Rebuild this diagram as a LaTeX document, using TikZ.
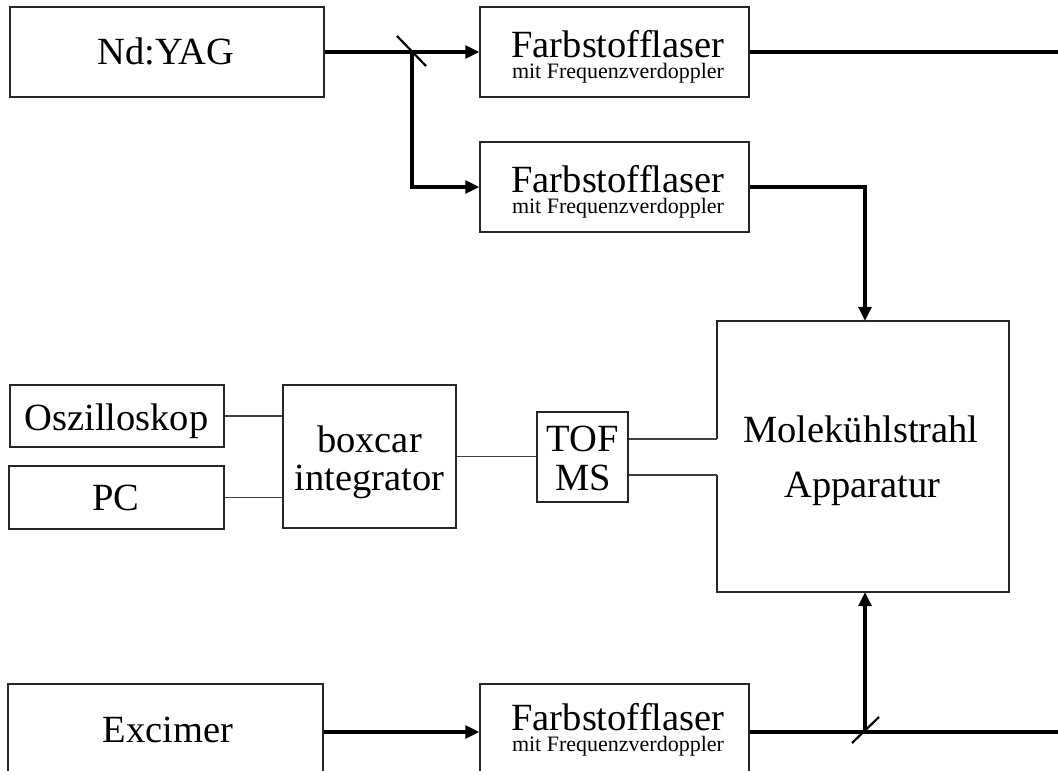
\documentclass[tikz,border=0pt]{standalone}
\usepackage{fontspec}
\setmainfont{Liberation Serif}
\usetikzlibrary{arrows.meta,calc}
\begin{document}
\begin{tikzpicture}[x=1pt,y=-1pt,
  box/.style={draw=black!85, line width=1.5pt, rectangle, inner sep=0pt},
  plainbox/.style={rectangle, inner sep=0pt},
  boxline/.style={draw=black!85, line width=1.5pt},
  beam/.style={line width=3.2pt, black},
  beamarrow/.style={beam, -{Triangle[length=14pt,width=13pt]}},
  wire/.style={line width=1.2pt, black!75},
  mirror/.style={line width=2.2pt, black},
  big/.style={font=\fontsize{38.5}{39}\selectfont, anchor=base, inner sep=0pt, text depth=0pt},
  small/.style={font=\fontsize{22}{24}\selectfont, anchor=base, inner sep=0pt, text height=14pt}]
\clip (0,0) rectangle (1058,771);
\fill[white] (0,0) rectangle (1058,771);

% boxes
\node[box, minimum width=314pt, minimum height=90pt] (yag) at (167,52) {};
\node[box, minimum width=269pt, minimum height=90pt] (f1) at (614.5,52) {};
\node[box, minimum width=269pt, minimum height=90pt] (f2) at (614.5,187) {};
\node[box, minimum width=214pt, minimum height=62pt] (osz) at (117,416) {};
\node[box, minimum width=215pt, minimum height=63pt] (pc) at (116.5,497.5) {};
\node[box, minimum width=173pt, minimum height=143pt] (boxcar) at (369.5,456.5) {};
\node[box, minimum width=91pt, minimum height=90pt] (tof) at (582.5,457) {};
\node[plainbox, minimum width=292pt, minimum height=271pt] (mol) at (863,456.5) {};
\node[box, minimum width=315pt, minimum height=96pt] (exc) at (165.5,732) {};
\node[box, minimum width=269pt, minimum height=96pt] (f3) at (614.5,732) {};

% molecular beam box with gap on left side
\draw[boxline] ([yshift=18pt]mol.west) -- (mol.north west) -- (mol.north east)
  -- (mol.south east) -- (mol.south west) -- ([yshift=-18pt]mol.west);

% texts
\node[big] (tyag) at (166,64) {Nd:YAG};
\node[big] (tf1a) at (618,57) {Farbstofflaser};
\node[small] (tf1b) at (618,78) {mit Frequenzverdoppler};
\node[big] (tf2a) at (618,192) {Farbstofflaser};
\node[small] (tf2b) at (618,213) {mit Frequenzverdoppler};
\node[big] (tosz) at (116.5,430) {Oszilloskop};
\node[big] (tpc) at (116,510) {PC};
\node[big] (tbox1) at (369.5,452) {boxcar};
\node[big] (tbox2) at (369.5,490) {integrator};
\node[big] (ttof1) at (583,451) {TOF};
\node[big] (ttof2) at (583,490) {MS};
\node[big] (tmol1) at (861,442) {Molekühlstrahl};
\node[big] (tmol2) at (862.5,497) {Apparatur};
\node[big] (texc) at (168,742) {Excimer};
\node[big] (tf3a) at (618,730) {Farbstofflaser};
\node[small] (tf3b) at (618,751) {mit Frequenzverdoppler};

% coordinates
\coordinate (m1) at (412,52);
\coordinate (m2) at (865,732);
\coordinate (e1) at (1070,52);
\coordinate (e3) at (1070,732);

% beams
\draw[beamarrow] (yag.east) -- (f1.west);
\draw[beamarrow] (m1) |- (f2.west);
\draw[beam] (f1.east) -- (e1);
\draw[beamarrow] (f2.east) -| (m2 |- mol.north);
\draw[beamarrow] (exc.east) -- (f3.west);
\draw[beam] (f3.east) -- (e3);
\draw[beamarrow] (m2) -- (m2 |- mol.south);

% mirrors
\draw[mirror] ([shift={(-15,-16)}]m1) -- ([shift={(14,14)}]m1);
\draw[mirror] ([shift={(-13,11)}]m2) -- ([shift={(14,-15)}]m2);

% wires
\draw[wire] (osz.east) -- (osz.east -| boxcar.west);
\draw[wire] (pc.east) -- (pc.east -| boxcar.west);
\draw[wire] (boxcar.east) -- (boxcar.east -| tof.west);
\draw[wire] ([yshift=18pt]tof.east) -- ([yshift=18pt]tof.east -| mol.west);
\draw[wire] ([yshift=-18pt]tof.east) -- ([yshift=-18pt]tof.east -| mol.west);
\end{tikzpicture}
\end{document}
